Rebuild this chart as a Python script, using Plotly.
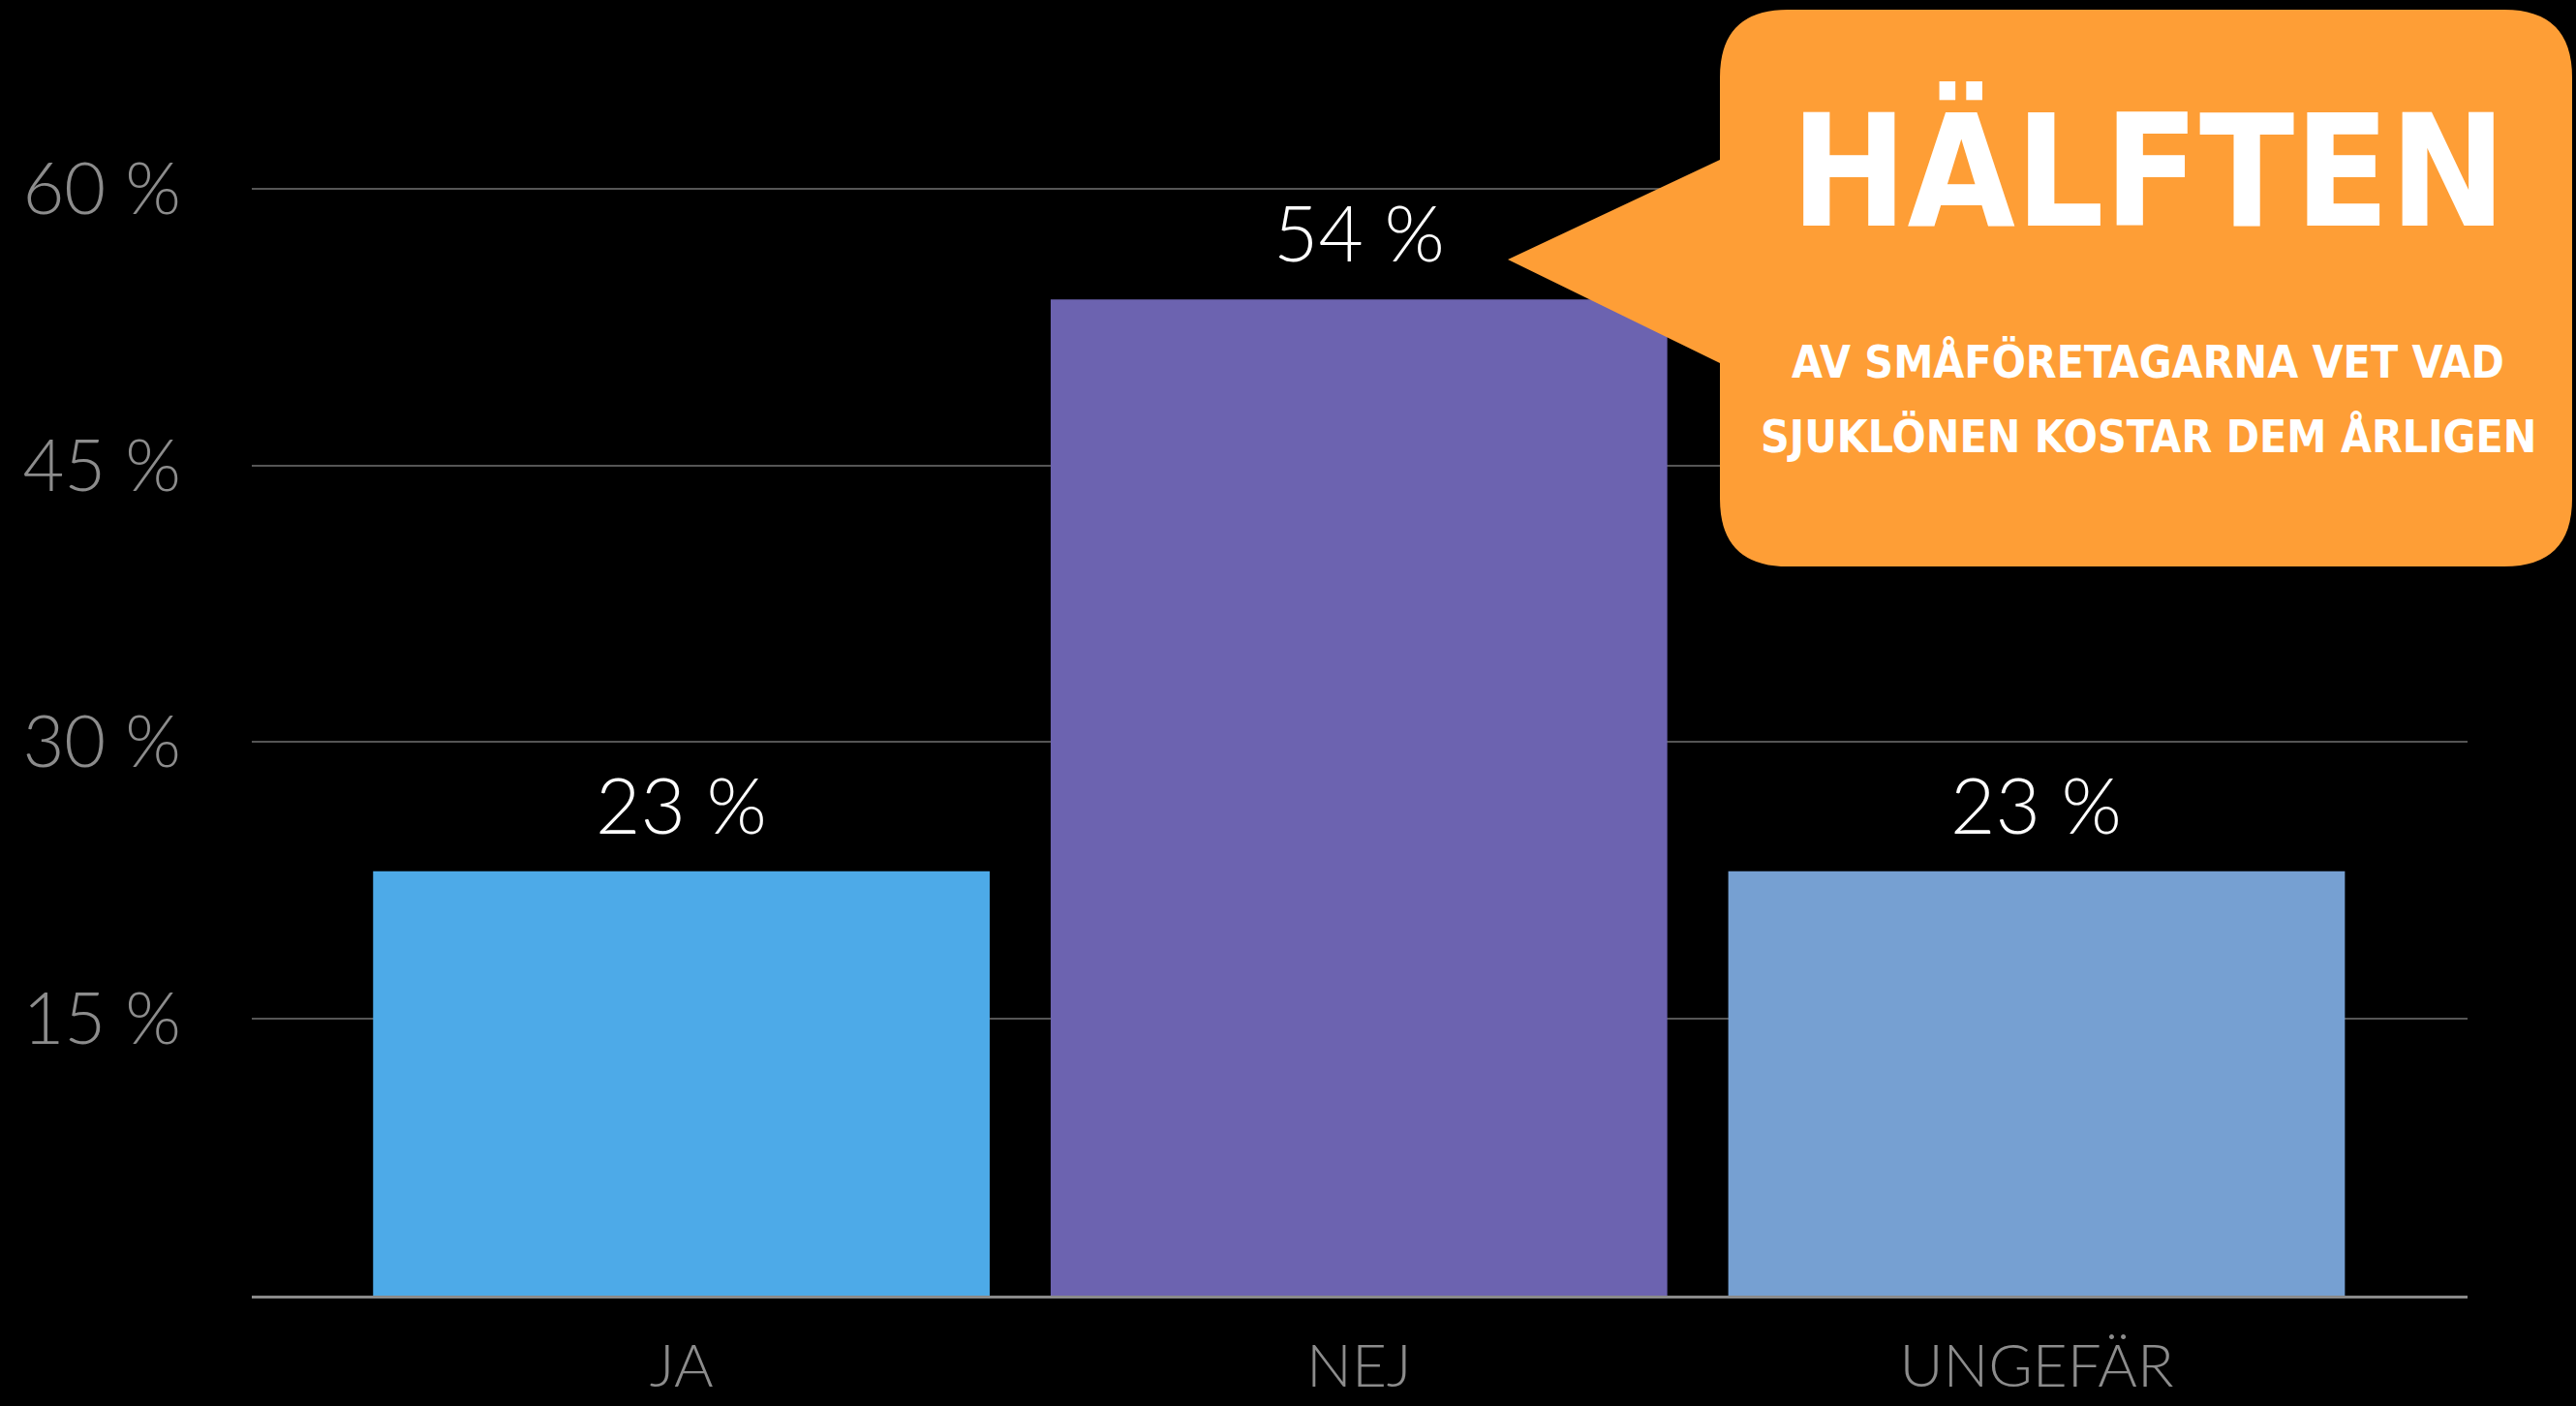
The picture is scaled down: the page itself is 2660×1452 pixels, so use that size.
import plotly.graph_objects as go

categories = ["JA", "NEJ", "UNGEFÄR"]
values = [23, 54, 23]
value_labels = ["23 %", "54 %", "23 %"]
bar_colors = ["#4DAAE8", "#6C63B0", "#76A0D2"]
y_tickvals = [15, 30, 45, 60]
y_ticktext = ["15 %", "30 %", "45 %", "60 %"]
callout_title = "HÄLFTEN"
callout_lines = ["AV SMÅFÖRETAGARNA VET VAD", "SJUKLÖNEN KOSTAR DEM ÅRLIGEN"]

W, H = 2660, 1452
L, R, T, B = 260, 112, 191, 114
PW, PH = W - L - R, H - T - B


def px(x):
    return (x - L) / PW


def py(y):
    return (H - B - y) / PH


fig = go.Figure()
fig.add_trace(go.Bar(
    x=categories, y=values, marker=dict(color=bar_colors, line=dict(width=0)),
    width=0.91, hoverinfo="skip",
))

annotations = []
for c, v, t in zip(categories, values, value_labels):
    annotations.append(dict(
        x=c, y=v, xref="x", yref="y", text=t, showarrow=False,
        yanchor="bottom", yshift=20,
        font=dict(family="Lato", size=80, color="white", weight=300),
    ))

# Callout bubble
x0, x1, y0, y1 = 1776, 2656, 10, 585
r = 70
tip = (1557, 268)
b0, b1 = 165, 375
path = (
    f"M {px(x0 + r)},{py(y0)} L {px(x1 - r)},{py(y0)} "
    f"Q {px(x1)},{py(y0)} {px(x1)},{py(y0 + r)} "
    f"L {px(x1)},{py(y1 - r)} Q {px(x1)},{py(y1)} {px(x1 - r)},{py(y1)} "
    f"L {px(x0 + r)},{py(y1)} Q {px(x0)},{py(y1)} {px(x0)},{py(y1 - r)} "
    f"L {px(x0)},{py(b1)} L {px(tip[0])},{py(tip[1])} L {px(x0)},{py(b0)} "
    f"L {px(x0)},{py(y0 + r)} Q {px(x0)},{py(y0)} {px(x0 + r)},{py(y0)} Z"
)
shapes = [dict(type="path", path=path, xref="paper", yref="paper",
               fillcolor="#FE9E36", line=dict(width=0), layer="above")]

annotations.append(dict(
    x=px(2218), y=py(178), xref="paper", yref="paper", text=f"<b>{callout_title}</b>",
    showarrow=False, xanchor="center", yanchor="middle",
    font=dict(family="DejaVu Sans Condensed, DejaVu Sans", size=160, color="white"),
))
for line, ly in zip(callout_lines, [374, 451]):
    annotations.append(dict(
        x=px(2218), y=py(ly), xref="paper", yref="paper",
        text=f"<b>{line}</b>",
        showarrow=False, xanchor="center", yanchor="middle",
        font=dict(family="DejaVu Sans Condensed, DejaVu Sans", size=46, color="white"),
    ))

fig.update_layout(
    width=W, height=H,
    margin=dict(l=L, r=R, t=T, b=B, pad=0, autoexpand=False),
    paper_bgcolor="black", plot_bgcolor="black",
    showlegend=False, bargap=0.09,
    shapes=shapes, annotations=annotations,
    xaxis=dict(
        range=[-0.634, 2.636], showgrid=False, zeroline=False, automargin=False,
        showline=True, linecolor="#8a8a8a", linewidth=3,
        ticks="", ticklabelstandoff=17,
        tickfont=dict(family="Lato", size=62, color="#8c8c8c", weight=300),
    ),
    yaxis=dict(
        range=[0, 60.2], tickvals=y_tickvals, ticktext=y_ticktext, automargin=False,
        showgrid=True, gridcolor="#555555", gridwidth=2, zeroline=False,
        showline=False, ticks="", ticklabelstandoff=72,
        tickfont=dict(family="Lato", size=74, color="#8c8c8c", weight=300),
    ),
)

fig.write_html("out.html", config={"displayModeBar": False},
               post_script="document.body.style.margin='0';document.body.style.overflow='hidden';")
